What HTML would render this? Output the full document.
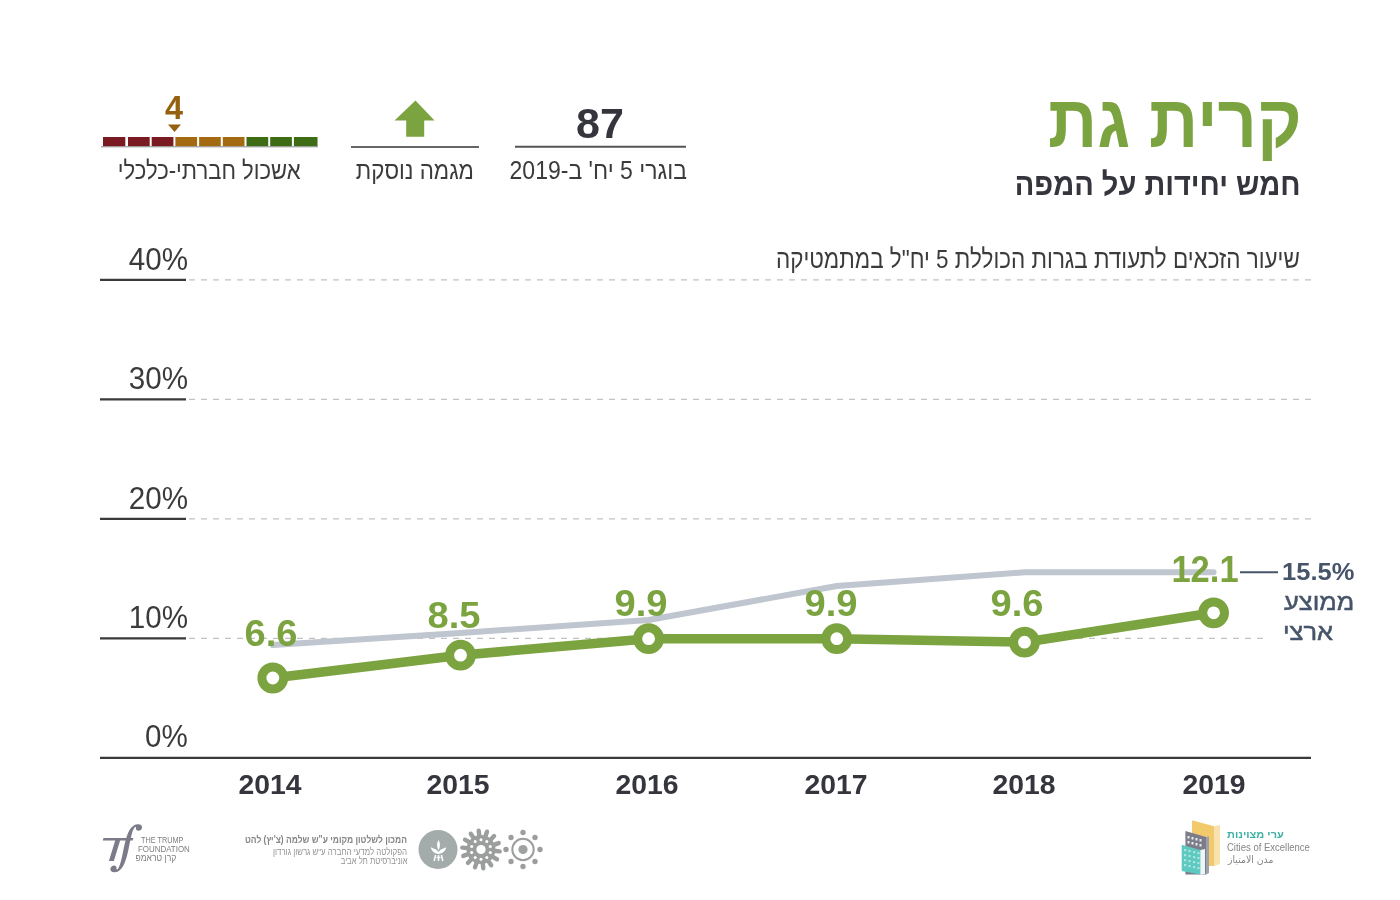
<!DOCTYPE html>
<html lang="he">
<head>
<meta charset="utf-8">
<title>קרית גת</title>
<style>
html,body{margin:0;padding:0;background:#fff;}
#pg{will-change:transform;position:relative;width:1400px;height:900px;overflow:hidden;background:#fff;font-family:"Liberation Sans","DejaVu Sans",sans-serif;}
svg.bg{position:absolute;left:0;top:0;}
.t{position:absolute;white-space:nowrap;line-height:1;margin:0;}
.r{transform-origin:100% 0;}
.l{transform-origin:0 0;}
.c{transform-origin:50% 0;}
.b{font-weight:bold;}
.g{color:#7ba33f;}
.dk{color:#35353d;}
.tx{color:#3b3b3d;}
.sl{color:#46556a;}
</style>
</head>
<body>
<div id="pg">
<svg class="bg" width="1400" height="900" viewBox="0 0 1400 900">
  <!-- header: socio-economic bar -->
  <g>
    <rect x="103.0" y="137" width="22.3" height="9.3" fill="#7a1a22"/>
    <rect x="128.0" y="137" width="21.7" height="9.3" fill="#7a1a22"/>
    <rect x="151.7" y="137" width="21.7" height="9.3" fill="#7a1a22"/>
    <rect x="175.4" y="137" width="21.7" height="9.3" fill="#a36a12"/>
    <rect x="199.1" y="137" width="21.7" height="9.3" fill="#a36a12"/>
    <rect x="222.8" y="137" width="21.7" height="9.3" fill="#a36a12"/>
    <rect x="246.5" y="137" width="21.7" height="9.3" fill="#3e6c15"/>
    <rect x="270.2" y="137" width="21.7" height="9.3" fill="#3e6c15"/>
    <rect x="293.9" y="137" width="23.6" height="9.3" fill="#3e6c15"/>
    <line x1="101" y1="146.8" x2="318" y2="146.8" stroke="#8a8a8a" stroke-width="1"/>
    <polygon points="168,124.5 181,124.5 174.5,132" fill="#95610f"/>
  </g>
  <!-- arrow -->
  <polygon points="415.5,100.5 434.5,120.5 424.2,120.5 424.2,136.8 406.2,136.8 406.2,120.5 394.5,120.5" fill="#7ba33f"/>
  <line x1="351" y1="147" x2="479" y2="147" stroke="#666" stroke-width="2"/>
  <line x1="515" y1="146.8" x2="686" y2="146.8" stroke="#555" stroke-width="2"/>

  <!-- grid -->
  <g stroke="#c2c2c2" stroke-width="1.3" stroke-dasharray="6 6" stroke-dashoffset="9">
    <line x1="186" y1="279.8" x2="1311" y2="279.8"/>
    <line x1="186" y1="399.3" x2="1311" y2="399.3"/>
    <line x1="186" y1="518.8" x2="1311" y2="518.8"/>
    <line x1="186" y1="638.3" x2="1264" y2="638.3"/>
  </g>
  <g stroke="#3a3a3a" stroke-width="2.2">
    <line x1="100" y1="279.8" x2="186" y2="279.8"/>
    <line x1="100" y1="399.3" x2="186" y2="399.3"/>
    <line x1="100" y1="518.8" x2="186" y2="518.8"/>
    <line x1="100" y1="638.3" x2="186" y2="638.3"/>
    <line x1="100" y1="757.8" x2="1311" y2="757.8"/>
  </g>

  <!-- national average -->
  <polyline points="272.8,645 460.5,633 648.6,620 836.8,586 1024.5,572.3 1213.6,572.3" fill="none" stroke="#bfc6cf" stroke-width="6" stroke-linejoin="round" stroke-linecap="round"/>
  <line x1="1240" y1="572.3" x2="1278" y2="572.3" stroke="#46556a" stroke-width="2"/>

  <!-- city line -->
  <polyline points="272.8,678 460.5,655.2 648.6,638.7 836.8,638.7 1024.5,642.2 1213.6,612.8" fill="none" stroke="#7ba33f" stroke-width="9.5" stroke-linejoin="round"/>
  <g fill="#fff" stroke="#7ba33f" stroke-width="9">
    <circle cx="272.8" cy="678" r="10.9"/>
    <circle cx="460.5" cy="655.2" r="10.9"/>
    <circle cx="648.6" cy="638.7" r="10.9"/>
    <circle cx="836.8" cy="638.7" r="10.9"/>
    <circle cx="1024.5" cy="642.2" r="10.9"/>
    <circle cx="1213.6" cy="612.8" r="10.9"/>
  </g>

  <!-- footer logos -->
  <circle cx="438" cy="849.5" r="19.5" fill="#a3abab"/>
  <g fill="#fff">
    <path d="M438.5,840 C440.3,843 440.6,846.5 438.5,850.5 C436.4,846.5 436.7,843 438.5,840 Z"/>
    <path d="M430.8,847.3 L436.5,849.8 L438.5,852 L440.5,849.8 L446.2,847.3 C445.4,851.2 442.5,853.6 438.5,853.9 C434.5,853.6 431.6,851.2 430.8,847.3 Z"/>
  </g>
  <g stroke="#fff" stroke-width="1.5" fill="none">
    <path d="M435.6,855 L434.2,861 M438.5,855 L438.5,861 M441.4,855 L442.8,861 M436.6,857.6 L440.4,857.6"/>
  </g>
  <g stroke="#9c9e9e" stroke-width="4.4" stroke-linecap="round"><line x1="492.9" y1="850.7" x2="499.7" y2="851.4"/><line x1="491.2" y1="855.8" x2="497.0" y2="859.3"/><line x1="487.5" y1="859.6" x2="491.2" y2="865.3"/><line x1="482.5" y1="861.4" x2="483.3" y2="868.2"/><line x1="477.2" y1="860.9" x2="475.0" y2="867.3"/><line x1="472.6" y1="858.1" x2="467.9" y2="863.0"/><line x1="469.7" y1="853.6" x2="463.3" y2="855.9"/><line x1="469.1" y1="848.3" x2="462.3" y2="847.6"/><line x1="470.8" y1="843.2" x2="465.0" y2="839.7"/><line x1="474.5" y1="839.4" x2="470.8" y2="833.7"/><line x1="479.5" y1="837.6" x2="478.7" y2="830.8"/><line x1="484.8" y1="838.1" x2="487.0" y2="831.7"/><line x1="489.4" y1="840.9" x2="494.1" y2="836.0"/><line x1="492.3" y1="845.4" x2="498.7" y2="843.1"/></g>
  <circle cx="481" cy="849.5" r="14.5" fill="#9c9e9e"/>
  <circle cx="481" cy="849.5" r="4.6" fill="#fff"/>
  <g fill="#fff"><circle cx="490.3" cy="852.5" r="1.5"/><circle cx="486.8" cy="857.4" r="1.5"/><circle cx="481.0" cy="859.3" r="1.5"/><circle cx="475.2" cy="857.4" r="1.5"/><circle cx="471.7" cy="852.5" r="1.5"/><circle cx="471.7" cy="846.5" r="1.5"/><circle cx="475.2" cy="841.6" r="1.5"/><circle cx="481.0" cy="839.7" r="1.5"/><circle cx="486.8" cy="841.6" r="1.5"/><circle cx="490.3" cy="846.5" r="1.5"/></g>
  <circle cx="523" cy="849.5" r="10.7" fill="none" stroke="#9c9e9e" stroke-width="2"/>
  <circle cx="523" cy="849.5" r="4.6" fill="#a0a2a2"/>
  <g fill="#9c9e9e"><circle cx="540.0" cy="849.5" r="2.7"/><circle cx="535.0" cy="861.5" r="2.7"/><circle cx="523.0" cy="866.5" r="2.7"/><circle cx="511.0" cy="861.5" r="2.7"/><circle cx="506.0" cy="849.5" r="2.7"/><circle cx="511.0" cy="837.5" r="2.7"/><circle cx="523.0" cy="832.5" r="2.7"/><circle cx="535.0" cy="837.5" r="2.7"/></g>

  <!-- cities of excellence icon -->
  <polygon points="1192,820.2 1214,826.2 1214,866 1192,866" fill="#f2ca6c"/>
  <polygon points="1214,826.2 1220,825 1220,864 1214,866" fill="#f7e2ae"/>
  <polygon points="1185.4,831 1206,837 1206,874.6 1185.4,874.6" fill="#7c7c8a"/>
  <polygon points="1206,837 1209,836.5 1209,873 1206,874.6" fill="#a0a0ac"/>
  <g fill="#fff" opacity="0.85">
    <rect x="1187.5" y="836" width="2" height="2.5"/><rect x="1191.5" y="837" width="2" height="2.5"/><rect x="1195.5" y="838" width="2" height="2.5"/><rect x="1199.5" y="839" width="2" height="2.5"/>
    <rect x="1187.5" y="841" width="2" height="2.5"/><rect x="1191.5" y="842" width="2" height="2.5"/><rect x="1195.5" y="843" width="2" height="2.5"/><rect x="1199.5" y="844" width="2" height="2.5"/>
  </g>
  <polygon points="1181.7,844.8 1200.3,850 1200.3,874.6 1181.7,871" fill="#5ec9c1"/>
  <polygon points="1200.3,850 1205,849 1205,874 1200.3,874.6" fill="#e8f8f6"/>
  <g fill="#a8e6e1">
    <rect x="1184" y="849" width="2.2" height="2.2"/><rect x="1188.5" y="850" width="2.2" height="2.2"/><rect x="1193" y="851" width="2.2" height="2.2"/><rect x="1197.3" y="852" width="2.2" height="2.2"/>
    <rect x="1184" y="854" width="2.2" height="2.2"/><rect x="1188.5" y="855" width="2.2" height="2.2"/><rect x="1193" y="856" width="2.2" height="2.2"/><rect x="1197.3" y="857" width="2.2" height="2.2"/>
    <rect x="1184" y="859" width="2.2" height="2.2"/><rect x="1188.5" y="860" width="2.2" height="2.2"/><rect x="1193" y="861" width="2.2" height="2.2"/><rect x="1197.3" y="862" width="2.2" height="2.2"/>
    <rect x="1184" y="864" width="2.2" height="2.2"/><rect x="1188.5" y="865" width="2.2" height="2.2"/><rect x="1193" y="866" width="2.2" height="2.2"/><rect x="1197.3" y="867" width="2.2" height="2.2"/>
  </g>

  <!-- Tf logo -->
  <text x="0" y="0" font-family="Liberation Sans" font-style="italic" font-size="33" fill="#7b7b89" transform="translate(98,861) scale(1.6,1)">T</text>
  <text x="0" y="0" font-family="DejaVu Serif" font-size="51.4" fill="#7b7b89" transform="translate(110.3,863) skewX(-10)">∫</text>
</svg>

<!-- header texts -->
<div class="t b g r" dir="rtl" style="right:98px;top:83.8px;font-size:74.75px;transform:scaleX(0.917)">קרית גת</div>
<div class="t b dk r" dir="rtl" style="right:99.3px;top:167.5px;font-size:32px;transform:scaleX(0.906)">חמש יחידות על המפה</div>

<div class="t b dk c" style="left:560px;width:80px;text-align:center;top:102px;font-size:43px;">87</div>
<div class="t tx r" dir="rtl" style="right:712.9px;top:157.5px;font-size:25.3px;transform:scaleX(0.910)">בוגרי 5 יח' ב-2019</div>
<div class="t tx r" dir="rtl" style="right:925.8px;top:157.5px;font-size:25.3px;transform:scaleX(0.8817)">מגמה נוסקת</div>
<div class="t tx r" dir="rtl" style="right:1099.3px;top:157.5px;font-size:25.3px;transform:scaleX(0.8721)">אשכול חברתי-כלכלי</div>
<div class="t b c" style="left:154px;width:40px;text-align:center;top:92px;font-size:32.4px;color:#95610f">4</div>

<!-- chart title -->
<div class="t tx r" dir="rtl" style="right:100px;top:246px;font-size:26.3px;transform:scaleX(0.8535)">שיעור הזכאים לתעודת בגרות הכוללת 5 יח"ל במתמטיקה</div>

<!-- y labels -->
<div class="t tx r" style="right:1212px;transform:scaleX(0.955);top:244px;font-size:31px;">40%</div>
<div class="t tx r" style="right:1212px;transform:scaleX(0.955);top:363px;font-size:31px;">30%</div>
<div class="t tx r" style="right:1212px;transform:scaleX(0.955);top:483px;font-size:31px;">20%</div>
<div class="t tx r" style="right:1212px;transform:scaleX(0.955);top:602px;font-size:31px;">10%</div>
<div class="t tx r" style="right:1212px;transform:scaleX(0.955);top:721px;font-size:31px;">0%</div>

<!-- x labels -->
<div class="t b dk c" style="left:219.5px;width:100px;text-align:center;top:772px;font-size:27px;transform:scaleX(1.05);">2014</div>
<div class="t b dk c" style="left:408px;width:100px;text-align:center;top:772px;font-size:27px;transform:scaleX(1.05);">2015</div>
<div class="t b dk c" style="left:597px;width:100px;text-align:center;top:772px;font-size:27px;transform:scaleX(1.05);">2016</div>
<div class="t b dk c" style="left:786px;width:100px;text-align:center;top:772px;font-size:27px;transform:scaleX(1.05);">2017</div>
<div class="t b dk c" style="left:974px;width:100px;text-align:center;top:772px;font-size:27px;transform:scaleX(1.05);">2018</div>
<div class="t b dk c" style="left:1163.5px;width:100px;text-align:center;top:772px;font-size:27px;transform:scaleX(1.05);">2019</div>

<!-- data labels -->
<div class="t b g c" style="left:220.5px;width:100px;text-align:center;top:615px;font-size:37px;transform:scaleX(1.03);">6.6</div>
<div class="t b g c" style="left:403.7px;width:100px;text-align:center;top:597px;font-size:37px;transform:scaleX(1.03);">8.5</div>
<div class="t b g c" style="left:591.3px;width:100px;text-align:center;top:585px;font-size:37px;transform:scaleX(1.03);">9.9</div>
<div class="t b g c" style="left:780.8px;width:100px;text-align:center;top:585px;font-size:37px;transform:scaleX(1.03);">9.9</div>
<div class="t b g c" style="left:967.4px;width:100px;text-align:center;top:585px;font-size:37px;transform:scaleX(1.03);">9.6</div>
<div class="t b g c" style="left:1155px;width:100px;text-align:center;top:551px;font-size:37px;transform:scaleX(0.933);">12.1</div>

<!-- legend -->
<div class="t b sl l" style="left:1282.4px;top:560px;font-size:24.3px;transform:scaleX(1.05);">15.5%</div>
<div class="t sl l" dir="rtl" style="left:1284px;top:590px;font-size:24px;-webkit-text-stroke:0.5px #46556a;transform:scaleX(1.06);">ממוצע</div>
<div class="t sl l" dir="rtl" style="left:1282.5px;top:620px;font-size:24px;-webkit-text-stroke:0.5px #46556a;transform:scaleX(1.06);">ארצי</div>

<!-- footer texts -->
<div class="t l" style="left:140.7px;top:836px;font-size:8.3px;color:#7e7e7e;transform:scaleX(0.88)">THE TRUMP</div>
<div class="t l" style="left:138.2px;top:844.5px;font-size:8.3px;color:#7e7e7e;transform:scaleX(0.955)">FOUNDATION</div>
<div class="t r" dir="rtl" style="right:1223.3px;top:853px;font-size:9.5px;color:#7e7e7e;transform:scaleX(0.9)">קרן טראמפ</div>
<div class="t b r" dir="rtl" style="right:993px;top:835px;font-size:10px;color:#858585;transform:scaleX(0.848)">המכון לשלטון מקומי ע"ש שלמה (צ'יץ) להט</div>
<div class="t r" dir="rtl" style="right:993px;top:846.5px;font-size:9.6px;color:#939393;transform:scaleX(0.817)">הפקולטה למדעי החברה ע"ש גרשון גורדון</div>
<div class="t r" dir="rtl" style="right:993px;top:856px;font-size:9.6px;color:#939393;transform:scaleX(0.80)">אוניברסיטת תל אביב</div>
<div class="t b l" dir="rtl" style="left:1227.4px;top:830px;font-size:10px;color:#3fb0a3;transform:scaleX(1.1)">ערי מצוינות</div>
<div class="t l" style="left:1227.4px;top:843px;font-size:10px;color:#858585;transform:scaleX(0.95)">Cities of Excellence</div>
<div class="t l" dir="rtl" style="left:1228px;top:854.5px;font-size:10px;color:#858585;font-family:'DejaVu Sans',sans-serif;transform:scaleX(0.93)">مدن الامتياز</div>

</div>
</body>
</html>
